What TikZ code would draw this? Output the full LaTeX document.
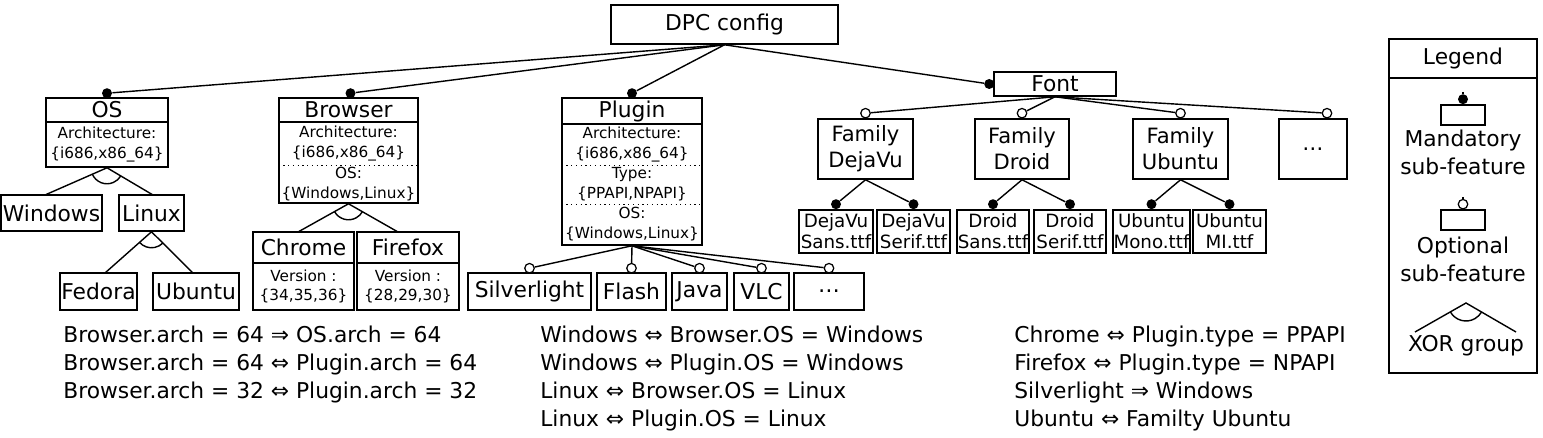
\documentclass[tikz,border=0pt]{standalone}
\usepackage{fontspec}
\setmainfont{DejaVu Sans}
\usepackage{tikz}
\usetikzlibrary{calc,angles}
\newcommand\bigfs{\fontsize{12.4}{15.9}\selectfont}
\newcommand\famfs{\fontsize{12}{14.7}\selectfont}
\newcommand\ttffs{\fontsize{10.4}{11.9}\selectfont}
\newcommand\attfs{\fontsize{8.7}{11.3}\selectfont}
\tikzset{
  sz/.style 2 args={minimum width=#1*0.02cm, minimum height=#2*0.02cm},
  feat/.style={draw, line width=0.9pt, inner sep=0pt, font=\bigfs},
  fam/.style={feat, align=center, font=\famfs},
  ttf/.style={feat, align=center, font=\ttffs},
  att/.style={inner sep=0pt, align=center, font=\attfs},
  box/.style={draw, line width=0.9pt, inner sep=0pt},
  conn/.style={line width=0.8pt},
  sep/.style={dotted, line width=0.7pt},
  mand/.style={circle, fill, inner sep=0pt, minimum size=0.2cm},
  opt/.style={circle, draw, fill=white, line width=0.7pt, inner sep=0pt, minimum size=0.19cm},
  xor/.style={draw, line width=0.8pt, angle radius=0.32cm},
  txt/.style={inner sep=0pt, align=left, anchor=north west, font=\bigfs},
  legtxt/.style={inner sep=0pt, align=center, font=\bigfs},
}

\begin{document}
\begin{tikzpicture}[x=0.02cm, y=0.02cm]
  \useasboundingbox (0,0) rectangle (1543,-438);

  % root
  \node[feat, sz={227}{39}] (dpc) at (724.5,-24.5) {DPC config};

  % OS
  \node[feat, sz={122}{24}] (os) at (107,-110) {OS};
  \node[box, att, sz={122}{45}] (os-b) at (107,-144.5) {Architecture:\\\{i686,x86\_64\}};
  \node[feat, sz={101}{36}] (win) at (51.5,-213) {Windows};
  \node[feat, sz={65}{36}] (lin) at (151.5,-213) {Linux};
  \node[feat, sz={77}{37}] (fed) at (98.5,-291.5) {Fedora};
  \node[feat, sz={86}{37}] (ubu) at (196,-291.5) {Ubuntu};

  % Browser
  \node[feat, sz={139}{24}] (br) at (348.5,-110) {Browser};
  \node[box, sz={139}{81}] (br-b) at (348.5,-162.5) {};
  \node[att, sz={139}{43}] (br-s1) at (348.5,-143.5) {Architecture:\\\{i686,x86\_64\}};
  \node[att, sz={139}{38}] (br-s2) at (348.5,-184) {OS:\\\{Windows,Linux\}};
  \draw[sep] (br-s1.south west) -- (br-s1.south east);
  \node[feat, sz={101}{31}] (chr) at (303.5,-247.5) {Chrome};
  \node[box, att, sz={101}{47}] (chr-b) at (303.5,-286.5) {Version :\\\{34,35,36\}};
  \node[feat, sz={102}{31}] (ff) at (408,-247.5) {Firefox};
  \node[box, att, sz={102}{47}] (ff-b) at (408,-286.5) {Version :\\\{28,29,30\}};

  % Plugin
  \node[feat, sz={140}{26}] (pl) at (632,-111) {Plugin};
  \node[box, sz={140}{121}] (pl-b) at (632,-184.5) {};
  \node[att, sz={140}{41}] (pl-s1) at (632,-144.5) {Architecture:\\\{i686,x86\_64\}};
  \node[att, sz={140}{39}] (pl-s2) at (632,-184.5) {Type:\\\{PPAPI,NPAPI\}};
  \node[att, sz={140}{41}] (pl-s3) at (632,-224.5) {OS:\\\{Windows,Linux\}};
  \draw[sep] (pl-s1.south west) -- (pl-s1.south east);
  \draw[sep] (pl-s2.south west) -- (pl-s2.south east);
  \node[feat, sz={123}{37}] (sl) at (529.5,-291.5) {Silverlight};
  \node[feat, sz={69}{37}] (fl) at (631.5,-291.5) {Flash};
  \node[feat, sz={55}{37}] (ja) at (699.5,-291.5) {Java};
  \node[feat, sz={55}{37}] (vlc) at (761.5,-291.5) {VLC};
  \node[feat, sz={70}{37}] (pld) at (829,-291.5) {…};

  % Font
  \node[feat, sz={122}{24}] (font) at (1055,-84) {Font};
  \node[fam, sz={95}{60}] (fdv) at (865.5,-149) {Family\\DejaVu};
  \node[fam, sz={94}{60}] (fdr) at (1022,-149) {Family\\Droid};
  \node[fam, sz={95}{60}] (fub) at (1180.5,-149) {Family\\Ubuntu};
  \node[fam, sz={68}{60}] (fdots) at (1313,-149) {…};
  \node[ttf, sz={74}{43}] (dvs) at (836,-231.5) {DejaVu\\Sans.ttf};
  \node[ttf, sz={73}{43}] (dvse) at (913.5,-231.5) {DejaVu\\Serif.ttf};
  \node[ttf, sz={72}{43}] (drs) at (993,-231.5) {Droid\\Sans.ttf};
  \node[ttf, sz={72}{43}] (drse) at (1070,-231.5) {Droid\\Serif.ttf};
  \node[ttf, sz={77}{43}] (ubm) at (1151.5,-231.5) {Ubuntu\\Mono.ttf};
  \node[ttf, sz={73}{43}] (ubmi) at (1229.5,-231.5) {Ubuntu\\MI.ttf};

  % mandatory links
  \node[mand] (os-m) at ($(os.north)+(0,4)$) {};
  \node[mand] (br-m) at ($(br.north)+(2,4)$) {};
  \node[mand] (pl-m) at ($(pl.north)+(0,4)$) {};
  \node[mand] (font-m) at ($(font.west)+(-4,0)$) {};
  \draw[conn] (dpc.south) -- (os-m);
  \draw[conn] (dpc.south) -- (br-m);
  \draw[conn] (dpc.south) -- (pl-m);
  \draw[conn] (dpc.south) -- (font-m);
  \foreach \f/\c in {fdv/dvs, fdv/dvse, fdr/drs, fdr/drse, fub/ubm, fub/ubmi} {
    \node[mand] (\c-m) at ($(\c.north)+(0,5)$) {};
    \draw[conn] (\f.south) -- (\c-m);
  }

  % optional links
  \foreach \c in {sl, fl, ja, vlc, pld} {
    \node[opt] (\c-o) at ($(\c.north)+(0,4)$) {};
    \draw[conn] (pl-b.south) -- (\c-o);
  }
  \foreach \c/\dx in {fdv/0, fdr/0, fub/0, fdots/14} {
    \node[opt] (\c-o) at ($(\c.north)+(\dx,5)$) {};
    \draw[conn] (font.south) -- (\c-o);
  }

  % xor groups
  \coordinate (os-l) at (45,-195);
  \coordinate (os-r) at (153,-195);
  \coordinate (os-x) at (os-b.south);
  \draw[conn] (os-l) -- (os-x) -- (os-r);
  \pic[xor] {angle=os-l--os-x--os-r};
  \coordinate (lin-l) at (105,-273);
  \coordinate (lin-r) at (193,-273);
  \coordinate (lin-x) at (lin.south);
  \draw[conn] (lin-l) -- (lin-x) -- (lin-r);
  \pic[xor] {angle=lin-l--lin-x--lin-r};
  \coordinate (br-l) at (298,-232);
  \coordinate (br-r) at (398,-232);
  \coordinate (br-x) at (br-b.south);
  \draw[conn] (br-l) -- (br-x) -- (br-r);
  \pic[xor] {angle=br-l--br-x--br-r};

  % constraints
  \node[txt] (cons1) at (63,-326) {Browser.arch = 64 ⇒ OS.arch = 64\\Browser.arch = 64 ⇔ Plugin.arch = 64\\Browser.arch = 32 ⇔ Plugin.arch = 32};
  \node[txt] (cons2) at (540,-326) {Windows ⇔ Browser.OS = Windows\\Windows ⇔ Plugin.OS = Windows\\Linux ⇔ Browser.OS = Linux\\Linux ⇔ Plugin.OS = Linux};
  \node[txt] (cons3) at (1014,-326) {Chrome ⇔ Plugin.type = PPAPI\\Firefox ⇔ Plugin.type = NPAPI\\Silverlight ⇒ Windows\\Ubuntu ⇔ Familty Ubuntu};

  % legend
  \node[feat, sz={148}{39}] (leg) at (1463,-58.5) {Legend};
  \node[box, sz={148}{295}] (leg-b) at (1463,-225.5) {};
  \node[box, sz={44}{20}] (lg-mb) at (1463,-115) {};
  \node[mand] (lg-md) at ($(lg-mb.north)+(0,5)$) {};
  \coordinate (lg-mt) at (1463,-92);
  \draw[conn] (lg-mt) -- (lg-md);
  \node[legtxt] (lg-mtx) at (1463,-152) {Mandatory\\sub-feature};
  \node[box, sz={44}{20}] (lg-ob) at (1463,-220) {};
  \node[opt] (lg-od) at ($(lg-ob.north)+(0,5)$) {};
  \coordinate (lg-ot) at (1463,-197);
  \draw[conn] (lg-ot) -- (lg-od);
  \node[legtxt] (lg-otx) at (1463,-259) {Optional\\sub-feature};
  \coordinate (lg-xl) at (1415,-332);
  \coordinate (lg-xr) at (1516,-332);
  \coordinate (lg-xa) at (1466,-303);
  \draw[conn] (lg-xl) -- (lg-xa) -- (lg-xr);
  \pic[xor, angle radius=0.36cm] {angle=lg-xl--lg-xa--lg-xr};
  \node[legtxt] (lg-xtx) at (1466,-346) {XOR group};
\end{tikzpicture}
\end{document}
